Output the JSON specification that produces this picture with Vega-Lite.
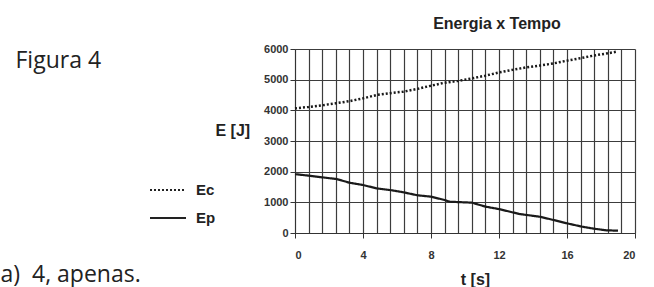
{
  "$schema": "https://vega.github.io/schema/vega-lite/v6.json",
  "width": 340,
  "height": 184,
  "autosize": {"type": "none"},
  "padding": {"left": 295, "top": 49, "right": 19, "bottom": 54},
  "background": "white",
  "config": {"view": {"stroke": null}, "font": "Liberation Sans"},
  "title": {"text": "Energia x Tempo", "fontSize": 16, "fontWeight": "bold", "font": "Liberation Sans", "color": "#222", "dx": 32, "offset": 11},
  "data": {"values": [
    {"t": 0, "E": 4065, "series": "Ec"},
    {"t": 0.8, "E": 4110, "series": "Ec"},
    {"t": 1.67, "E": 4170, "series": "Ec"},
    {"t": 2.4, "E": 4230, "series": "Ec"},
    {"t": 3.2, "E": 4300, "series": "Ec"},
    {"t": 4, "E": 4390, "series": "Ec"},
    {"t": 4.8, "E": 4500, "series": "Ec"},
    {"t": 5.6, "E": 4560, "series": "Ec"},
    {"t": 6.4, "E": 4610, "series": "Ec"},
    {"t": 7.2, "E": 4700, "series": "Ec"},
    {"t": 7.9, "E": 4790, "series": "Ec"},
    {"t": 8.8, "E": 4900, "series": "Ec"},
    {"t": 9.6, "E": 4960, "series": "Ec"},
    {"t": 10.4, "E": 5040, "series": "Ec"},
    {"t": 11.2, "E": 5130, "series": "Ec"},
    {"t": 12, "E": 5235, "series": "Ec"},
    {"t": 12.8, "E": 5320, "series": "Ec"},
    {"t": 13.6, "E": 5400, "series": "Ec"},
    {"t": 14.4, "E": 5460, "series": "Ec"},
    {"t": 15.2, "E": 5530, "series": "Ec"},
    {"t": 16, "E": 5620, "series": "Ec"},
    {"t": 16.8, "E": 5700, "series": "Ec"},
    {"t": 17.6, "E": 5790, "series": "Ec"},
    {"t": 18.3, "E": 5850, "series": "Ec"},
    {"t": 18.9, "E": 5910, "series": "Ec"},
    {"t": 0, "E": 1920, "series": "Ep"},
    {"t": 0.8, "E": 1870, "series": "Ep"},
    {"t": 1.6, "E": 1815, "series": "Ep"},
    {"t": 2.45, "E": 1760, "series": "Ep"},
    {"t": 3.2, "E": 1640, "series": "Ep"},
    {"t": 4, "E": 1565, "series": "Ep"},
    {"t": 4.8, "E": 1455, "series": "Ep"},
    {"t": 5.6, "E": 1400, "series": "Ep"},
    {"t": 6.4, "E": 1325, "series": "Ep"},
    {"t": 7.2, "E": 1230, "series": "Ep"},
    {"t": 8, "E": 1185, "series": "Ep"},
    {"t": 8.8, "E": 1075, "series": "Ep"},
    {"t": 9.1, "E": 1020, "series": "Ep"},
    {"t": 10.4, "E": 990, "series": "Ep"},
    {"t": 11.2, "E": 860, "series": "Ep"},
    {"t": 12, "E": 780, "series": "Ep"},
    {"t": 13.2, "E": 620, "series": "Ep"},
    {"t": 14.4, "E": 530, "series": "Ep"},
    {"t": 15.2, "E": 425, "series": "Ep"},
    {"t": 16, "E": 315, "series": "Ep"},
    {"t": 16.9, "E": 205, "series": "Ep"},
    {"t": 17.6, "E": 140, "series": "Ep"},
    {"t": 18.3, "E": 88, "series": "Ep"},
    {"t": 19, "E": 75, "series": "Ep"}
  ]},
  "encoding": {
    "strokeDash": {
      "field": "series", "type": "nominal",
      "scale": {"domain": ["Ec", "Ep"], "range": [[2, 2], [1, 0]]},
      "legend": {
        "orient": "none", "legendX": -146, "legendY": 131, "title": null,
        "symbolType": "stroke", "symbolSize": 1296, "symbolStrokeWidth": 2,
        "symbolStrokeColor": "#222", "clipHeight": 20, "rowPadding": 8,
        "labelFontSize": 15, "labelFontWeight": "bold", "labelColor": "#222",
        "labelOffset": 9, "padding": 0
      }
    }
  },
  "layer": [
    {
      "transform": [{"filter": "datum.series == 'Ec'"}],
      "mark": {"type": "line", "color": "#1a1a1a", "strokeWidth": 2.5},
      "encoding": {
        "x": {
          "field": "t", "type": "quantitative",
          "scale": {"domain": [0, 20], "nice": false},
          "axis": {
            "orient": "bottom", "values": [0, 4, 8, 12, 16, 20], "grid": false, "format": "d",
            "tickSize": 5, "tickColor": "#333", "domainColor": "#333",
            "labelFontSize": 11, "labelFontWeight": "bold", "labelColor": "#333", "labelPadding": 11,
            "title": "t [s]", "titleFontSize": 16, "titleFontWeight": "bold", "titleColor": "#222",
            "titleX": 180, "titleY": 51, "titleBaseline": "alphabetic", "titleAlign": "center"
          }
        },
        "y": {
          "field": "E", "type": "quantitative",
          "scale": {"domain": [0, 6000], "nice": false},
          "axis": {
            "orient": "left", "values": [0, 1000, 2000, 3000, 4000, 5000, 6000], "format": "d",
            "grid": true, "gridColor": "#3c3c3c", "gridWidth": 1.2, "gridOpacity": 1,
            "tickSize": 5, "tickColor": "#333", "domainColor": "#333",
            "labelFontSize": 11, "labelFontWeight": "bold", "labelColor": "#333", "labelPadding": 2,
            "title": "E [J]", "titleAngle": 0, "titleFontSize": 16, "titleFontWeight": "bold", "titleColor": "#222",
            "titleX": -80, "titleY": 86, "titleAlign": "left", "titleBaseline": "alphabetic"
          }
        }
      }
    },
    {
      "transform": [{"filter": "datum.series == 'Ep'"}],
      "mark": {"type": "line", "color": "#1a1a1a", "strokeWidth": 2.2},
      "encoding": {
        "x": {
          "field": "t", "type": "quantitative",
          "scale": {"domain": [0, 20], "nice": false},
          "axis": {
            "orient": "top",
            "values": [0, 0.8, 1.6, 2.4, 3.2, 4, 4.8, 5.6, 6.4, 7.2, 8, 8.8, 9.6, 10.4, 11.2, 12, 12.8, 13.6, 14.4, 15.2, 16, 16.8, 17.6, 18.4, 19.2, 20],
            "grid": true, "gridColor": "#3c3c3c", "gridWidth": 1.2, "gridOpacity": 1,
            "labels": false, "ticks": false, "domain": false,
            "title": "Figura 4", "titleFont": "Open Sans", "titleFontSize": 23, "titleFontWeight": "normal", "titleColor": "#222",
            "titleX": -280, "titleY": 18, "titleAlign": "left", "titleBaseline": "alphabetic"
          }
        },
        "y": {
          "field": "E", "type": "quantitative",
          "scale": {"domain": [0, 6000], "nice": false},
          "axis": {
            "orient": "right", "grid": false, "labels": false, "ticks": false, "domain": false,
            "title": "a)\u00a0\u00a04, apenas.", "titleAngle": 0, "titleFont": "Open Sans", "titleFontSize": 23, "titleFontWeight": "normal", "titleColor": "#222",
            "titleX": -635, "titleY": 232, "titleAlign": "left", "titleBaseline": "alphabetic"
          }
        }
      }
    }
  ],
  "resolve": {"axis": {"x": "independent", "y": "independent"}}
}
